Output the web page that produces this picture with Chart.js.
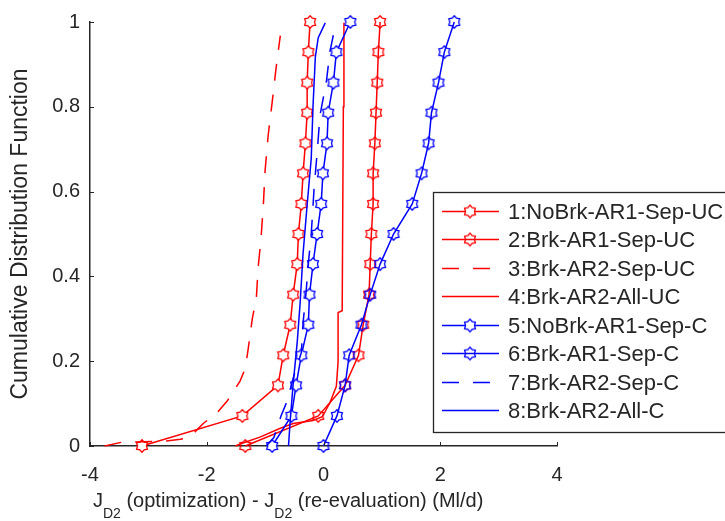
<!DOCTYPE html>
<html>
<head>
<meta charset="utf-8">
<script src="https://cdn.jsdelivr.net/npm/chart.js@4.4.1/dist/chart.umd.min.js"></script>
<style>
  html, body { margin: 0; padding: 0; background: #fff; }
  #wrap { position: relative; width: 725px; height: 521px; overflow: hidden; }
  #xtitle {
    position: absolute; left: 93px; top: 490px; white-space: nowrap;
    font-family: "Liberation Sans", Arial, sans-serif; font-size: 20px; line-height: 20px; color: #262626;
  }
  #xtitle sub { font-size: 14px; line-height: 0; vertical-align: -11px; }
</style>
</head>
<body>
<div id="wrap">
  <canvas id="cdfChart" width="725" height="521"></canvas>
  <div id="xtitle">J<sub>D2</sub> (optimization) - J<sub>D2</sub> (re-evaluation) (Ml/d)</div>
</div>
<script>
// CDF levels of the marker series (15 points each)
const cdfLevels = [0, 0.071, 0.143, 0.214, 0.286, 0.357, 0.429, 0.5, 0.571, 0.643, 0.714, 0.786, 0.857, 0.929, 1];

const noBrkAr1SepUC = [-3.11, -1.39, -0.78, -0.69, -0.57, -0.52, -0.45, -0.43, -0.38, -0.35, -0.31, -0.28, -0.28, -0.26, -0.23];
const brkAr1SepUC = [-1.34, -0.09, 0.37, 0.60, 0.68, 0.78, 0.80, 0.82, 0.85, 0.85, 0.88, 0.90, 0.92, 0.94, 0.97];
const noBrkAr1SepC = [-0.88, -0.55, -0.47, -0.38, -0.26, -0.24, -0.18, -0.11, -0.04, -0.01, 0.06, 0.08, 0.17, 0.22, 0.46];
const brkAr1SepC = [0.00, 0.23, 0.37, 0.44, 0.65, 0.80, 0.97, 1.20, 1.52, 1.68, 1.80, 1.85, 1.97, 2.07, 2.24];

// curves drawn without markers
const brkAr2SepUC_x = [-3.75, -3.45, -2.75, -2.45, -2.29, -2.06, -1.82, -1.65, -1.43, -1.34, -1.29, -1.22, -1.15, -1.12, -1.07, -1.03, -1.00, -0.95, -0.88, -0.81, -0.74];
const brkAr2SepUC_y = [0, 0.009, 0.011, 0.016, 0.021, 0.053, 0.079, 0.106, 0.153, 0.183, 0.229, 0.30, 0.35, 0.42, 0.49, 0.57, 0.65, 0.73, 0.81, 0.894, 0.968];

const brkAr2AllUC_x = [-1.51, -1.38, -1.09, -0.74, -0.52, -0.18, -0.02, 0.11, 0.22, 0.25, 0.25, 0.32, 0.34, 0.35];
const brkAr2AllUC_y = [0, 0.007, 0.021, 0.042, 0.053, 0.060, 0.069, 0.102, 0.141, 0.199, 0.315, 0.319, 0.80, 0.998];

const brkAr2SepC_x = [-0.98, -0.85, -0.73, -0.62, -0.52, -0.38, -0.35, -0.30, -0.26, -0.21, -0.16, -0.11, -0.06, 0.05, 0.11, 0.20];
const brkAr2SepC_y = [0, 0.02, 0.07, 0.107, 0.16, 0.22, 0.29, 0.36, 0.43, 0.50, 0.61, 0.69, 0.78, 0.86, 0.93, 0.99];

const brkAr2AllC_x = [-0.60, -0.57, -0.52, -0.45, -0.40, -0.35, -0.28, -0.21, -0.18, -0.14, -0.09, 0.03];
const brkAr2AllC_y = [0, 0.06, 0.146, 0.245, 0.338, 0.454, 0.569, 0.678, 0.80, 0.917, 0.963, 0.998];

const seriesNames = ['1:NoBrk-AR1-Sep-UC', '2:Brk-AR1-Sep-UC', '3:Brk-AR2-Sep-UC', '4:Brk-AR2-All-UC',
  '5:NoBrk-AR1-Sep-C', '6:Brk-AR1-Sep-C', '7:Brk-AR2-Sep-C', '8:Brk-AR2-All-C'];

const xTicks = [-4, -2, 0, 2, 4];
const xTickLabels = ['-4', '-2', '0', '2', '4'];
const yTicks = [0, 0.2, 0.4, 0.6, 0.8, 1];
const yTickLabels = ['0', '0.2', '0.4', '0.6', '0.8', '1'];

const RED = '#ff0000';
const BLUE = '#0000ff';
const TEXT = '#262626';
const FONT = '"Liberation Sans", Arial, sans-serif';

// hexagram-ish marker, like the matlab one
function makeMarker(color, fill) {
  const c = document.createElement('canvas');
  c.width = 16; c.height = 16;
  const g = c.getContext('2d');
  g.beginPath();
  for (let k = 0; k < 12; k++) {
    const r = k % 2 === 0 ? 6.3 : 4.4;
    const a = -Math.PI / 2 + k * Math.PI / 6;
    const px = 8 + r * Math.cos(a), py = 8 + r * Math.sin(a);
    if (k === 0) g.moveTo(px, py); else g.lineTo(px, py);
  }
  g.closePath();
  if (fill) { g.fillStyle = fill; g.fill(); }
  g.strokeStyle = color;
  g.lineWidth = 1.3;
  g.stroke();
  return c;
}

const redFilled = makeMarker(RED, '#ffffff');
const redOpen = makeMarker(RED, null);
const blueFilled = makeMarker(BLUE, '#ffffff');
const blueOpen = makeMarker(BLUE, null);

function pts(xs, ys) {
  return xs.map((x, i) => ({ x: x, y: ys[i] }));
}

function markerSet(label, xs, color, marker) {
  return {
    label, data: pts(xs, cdfLevels), borderColor: color, borderWidth: 1.5,
    pointStyle: marker, pointRadius: 6, showLine: true, tension: 0, clip: false
  };
}

function lineSet(label, xs, ys, color, dash) {
  return {
    label, data: pts(xs, ys), borderColor: color, borderWidth: 1.5, borderDash: dash,
    pointRadius: 0, showLine: true, tension: 0, clip: 2
  };
}

const datasets = [
  markerSet(seriesNames[0], noBrkAr1SepUC, RED, redFilled),
  markerSet(seriesNames[1], brkAr1SepUC, RED, redOpen),
  lineSet(seriesNames[2], brkAr2SepUC_x, brkAr2SepUC_y, RED, [17, 14]),
  lineSet(seriesNames[3], brkAr2AllUC_x, brkAr2AllUC_y, RED, []),
  markerSet(seriesNames[4], noBrkAr1SepC, BLUE, blueFilled),
  markerSet(seriesNames[5], brkAr1SepC, BLUE, blueOpen),
  lineSet(seriesNames[6], brkAr2SepC_x, brkAr2SepC_y, BLUE, [17, 14]),
  lineSet(seriesNames[7], brkAr2AllC_x, brkAr2AllC_y, BLUE, [])
];
// later series on top, like matlab
datasets.forEach((d, i) => { d.order = datasets.length - i; });

// inward tick marks
const innerTicks = {
  id: 'innerTicks',
  afterDraw(chart) {
    const { ctx, scales: { x, y } } = chart;
    ctx.save();
    ctx.strokeStyle = TEXT;
    ctx.lineWidth = 1;
    ctx.beginPath();
    xTicks.forEach(v => {
      const px = Math.round(x.getPixelForValue(v)) + 0.5;
      ctx.moveTo(px, y.bottom); ctx.lineTo(px, y.bottom - 4);
    });
    yTicks.forEach(v => {
      const py = Math.round(y.getPixelForValue(v)) + 0.5;
      ctx.moveTo(x.left, py); ctx.lineTo(x.left + 4, py);
    });
    ctx.stroke();
    ctx.restore();
  }
};

// boxed legend sitting over the right part of the plot
const boxLegend = {
  id: 'boxLegend',
  afterDraw(chart) {
    const ctx = chart.ctx;
    const left = 433, top = 192, bottom = 432, right = 750;
    const rowTop = 210.5, rowStep = 28.5;
    ctx.save();
    ctx.fillStyle = '#fff';
    ctx.fillRect(left, top, right - left, bottom - top);
    ctx.strokeStyle = TEXT;
    ctx.lineWidth = 1.3;
    ctx.strokeRect(left + 0.5, top + 0.5, right - left, bottom - top);
    ctx.font = '22px ' + FONT;
    ctx.textBaseline = 'middle';
    ctx.textAlign = 'left';
    chart.data.datasets.forEach((ds, i) => {
      const yy = Math.round(rowTop + i * rowStep) + 0.5;
      ctx.strokeStyle = ds.borderColor;
      ctx.lineWidth = 1.5;
      ctx.setLineDash(ds.borderDash || []);
      ctx.beginPath();
      ctx.moveTo(442, yy);
      ctx.lineTo(ds.borderDash && ds.borderDash.length ? 492 : 499, yy);
      ctx.stroke();
      ctx.setLineDash([]);
      if (ds.pointRadius > 0) ctx.drawImage(ds.pointStyle, 470 - 8, yy - 8);
      ctx.fillStyle = TEXT;
      ctx.fillText(ds.label, 508, yy + 1);
    });
    ctx.restore();
  }
};

new Chart(document.getElementById('cdfChart'), {
  type: 'scatter',
  data: { datasets },
  options: {
    responsive: false,
    animation: false,
    layout: { padding: { left: 0, right: 168, top: 14, bottom: 0 } },
    plugins: { legend: { display: false }, tooltip: { enabled: false } },
    scales: {
      x: {
        type: 'linear', min: -4, max: 4,
        afterBuildTicks: s => { s.ticks = xTicks.map(v => ({ value: v })); },
        afterFit: s => { s.height = 75; },
        grid: { display: false, drawTicks: false },
        border: { color: TEXT, width: 1.5 },
        ticks: {
          padding: 17, color: TEXT, font: { family: FONT, size: 20 }, maxRotation: 0,
          callback: (v, i) => xTickLabels[i]
        }
      },
      y: {
        type: 'linear', min: 0, max: 1,
        afterBuildTicks: s => { s.ticks = yTicks.map(v => ({ value: v })); },
        afterFit: s => { s.width = 90; },
        grid: { display: false, drawTicks: false },
        border: { color: TEXT, width: 1.5 },
        ticks: {
          padding: 10, color: TEXT, font: { family: FONT, size: 20 },
          callback: (v, i) => yTickLabels[i]
        },
        title: {
          display: true, text: 'Cumulative Distribution Function', color: TEXT,
          font: { family: FONT, size: 23 }, padding: { top: 7, bottom: 0 }
        }
      }
    }
  },
  plugins: [innerTicks, boxLegend]
});
</script>
</body>
</html>
